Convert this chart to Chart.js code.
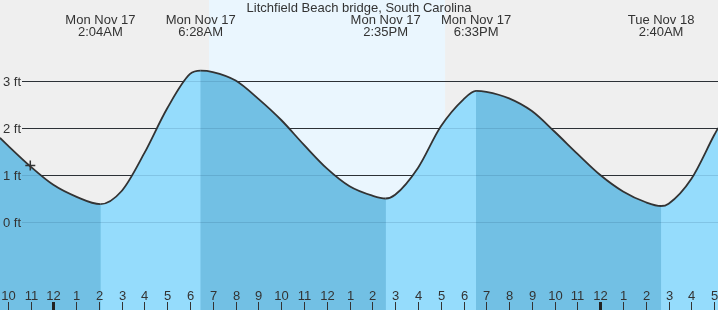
<!DOCTYPE html>
<html lang="en">
<head>
    <meta charset="UTF-8">
    <title>Litchfield Beach bridge tides</title>
    <script src="https://cdn.jsdelivr.net/npm/chart.js"></script>
    <style>
        body {
            margin: 0;
            padding: 0;
            background-color: #efefef;
        }
        canvas {
            display: block;
        }
    </style>
</head>
<body>
    <canvas id="tideChart" width="718" height="310"></canvas>

    <script>
        // hours counted from midnight, Mon Nov 17
        const tideHours = [-2.34, -2, -1, 0, 1, 2.067, 3, 4, 5, 6, 6.467, 7, 8, 9, 10, 11, 12, 13, 14, 14.583,
            15, 16, 17, 18, 18.55, 19, 20, 21, 22, 23, 24, 25, 26, 26.667, 27, 28, 29, 29.17];
        const tideFeet = [1.79, 1.63, 1.18, 0.79, 0.54, 0.38, 0.66, 1.47, 2.42, 3.15, 3.22, 3.19, 3.01, 2.62, 2.17, 1.64, 1.14, 0.76, 0.56, 0.50,
            0.58, 1.15, 2.03, 2.61, 2.79, 2.77, 2.63, 2.36, 1.92, 1.45, 1.00, 0.65, 0.42, 0.34, 0.39, 0.92, 1.85, 2.00];

        const eventHours = [2.067, 6.467, 14.583, 18.55, 26.667];
        const eventDays = ['Mon Nov 17', 'Mon Nov 17', 'Mon Nov 17', 'Mon Nov 17', 'Tue Nov 18'];
        const eventTimes = ['2:04AM', '6:28AM', '2:35PM', '6:33PM', '2:40AM'];

        const sunrise = 6.83;
        const sunset = 17.19;

        const nowHour = [-1.01];
        const nowFeet = [1.20];

        const yTicks = [0, 1, 2, 3];
        const hourTicks = [];
        for (let h = -2; h <= 29; h++) hourTicks.push(h);

        const FONT = '13px "Liberation Sans", Arial, sans-serif';
        const TEXT = '#333';
        const FALLING = '#72c0e4';
        const RISING = '#95dcfc';

        function hourLabel(h) {
            const m = ((h % 12) + 12) % 12;
            return String(m === 0 ? 12 : m);
        }

        function drawGrid(chart, color) {
            const { ctx, chartArea: a, scales: { y } } = chart;
            ctx.save();
            ctx.strokeStyle = color;
            ctx.lineWidth = 1;
            yTicks.forEach(v => {
                const py = Math.round(y.getPixelForValue(v)) + 0.5;
                ctx.beginPath();
                ctx.moveTo(22, py);
                ctx.lineTo(a.right, py);
                ctx.stroke();
            });
            ctx.restore();
        }

        const tidePlugin = {
            id: 'tideDecor',
            beforeDraw(chart) {
                const { ctx, chartArea: a, scales: { x } } = chart;
                ctx.save();
                ctx.fillStyle = '#efefef';
                ctx.fillRect(a.left, a.top, a.right - a.left, a.bottom - a.top);
                const x0 = x.getPixelForValue(sunrise);
                const x1 = x.getPixelForValue(sunset);
                ctx.fillStyle = '#eaf6fe';
                ctx.fillRect(x0, a.top, x1 - x0, a.bottom - a.top);
                ctx.restore();
            },
            beforeDatasetsDraw(chart) {
                drawGrid(chart, '#333');
            },
            afterDatasetsDraw(chart) {
                const { ctx, chartArea: a, scales: { x, y } } = chart;
                // faint grid showing through the water
                drawGrid(chart, 'rgba(0,40,80,0.13)');

                ctx.save();
                ctx.font = FONT;
                ctx.fillStyle = TEXT;

                // y labels
                ctx.textAlign = 'left';
                ctx.textBaseline = 'alphabetic';
                yTicks.forEach(v => {
                    ctx.fillText(v + ' ft', 3, Math.round(y.getPixelForValue(v)) + 4.5);
                });

                // hour labels and ticks
                ctx.textAlign = 'center';
                hourTicks.forEach(h => {
                    const px = Math.round(x.getPixelForValue(h));
                    ctx.fillStyle = TEXT;
                    ctx.fillText(hourLabel(h), px + 0.5, 300);
                    const midnight = (h % 24) === 0;
                    ctx.fillStyle = midnight ? '#222' : '#333';
                    ctx.fillRect(midnight ? px - 1 : px, 302, midnight ? 3 : 1, a.bottom - 302);
                });

                // title and event labels
                ctx.fillStyle = TEXT;
                ctx.fillText('Litchfield Beach bridge, South Carolina', (a.left + a.right) / 2, 12);
                eventHours.forEach((h, i) => {
                    const px = x.getPixelForValue(h);
                    ctx.fillText(eventDays[i], px, 24);
                    ctx.fillText(eventTimes[i], px, 36);
                });
                ctx.restore();
            }
        };

        const tidePoints = tideHours.map((h, i) => ({ x: h, y: tideFeet[i] }));

        const ctx = document.getElementById('tideChart').getContext('2d');
        const tideChart = new Chart(ctx, {
            type: 'line',
            data: {
                datasets: [{
                    label: 'Now',
                    order: 0,
                    data: nowHour.map((h, i) => ({ x: h, y: nowFeet[i] })),
                    showLine: false,
                    pointStyle: 'cross',
                    pointRadius: 5,
                    pointBorderWidth: 1.5,
                    pointBorderColor: '#333',
                    borderColor: '#333'
                }, {
                    // rising water painted lighter, line on top
                    label: 'Tide',
                    order: 1,
                    data: tidePoints,
                    borderColor: '#333',
                    borderWidth: 1.8,
                    pointRadius: 0,
                    cubicInterpolationMode: 'monotone',
                    fill: 'start',
                    backgroundColor: RISING,
                    segment: {
                        backgroundColor: c => c.p1.parsed.y > c.p0.parsed.y ? RISING : 'rgba(0,0,0,0)'
                    }
                }, {
                    label: 'Water',
                    order: 2,
                    data: tidePoints,
                    borderWidth: 0,
                    borderColor: 'rgba(0,0,0,0)',
                    pointRadius: 0,
                    cubicInterpolationMode: 'monotone',
                    fill: 'start',
                    backgroundColor: FALLING
                }]
            },
            options: {
                responsive: false,
                animation: false,
                events: [],
                layout: { padding: 0, autoPadding: false },
                scales: {
                    x: { type: 'linear', min: -2.339, max: 29.166, display: false },
                    y: { min: -1.872, max: 4.723, display: false }
                },
                plugins: {
                    legend: { display: false },
                    tooltip: { enabled: false }
                }
            },
            plugins: [tidePlugin]
        });
    </script>
</body>
</html>
